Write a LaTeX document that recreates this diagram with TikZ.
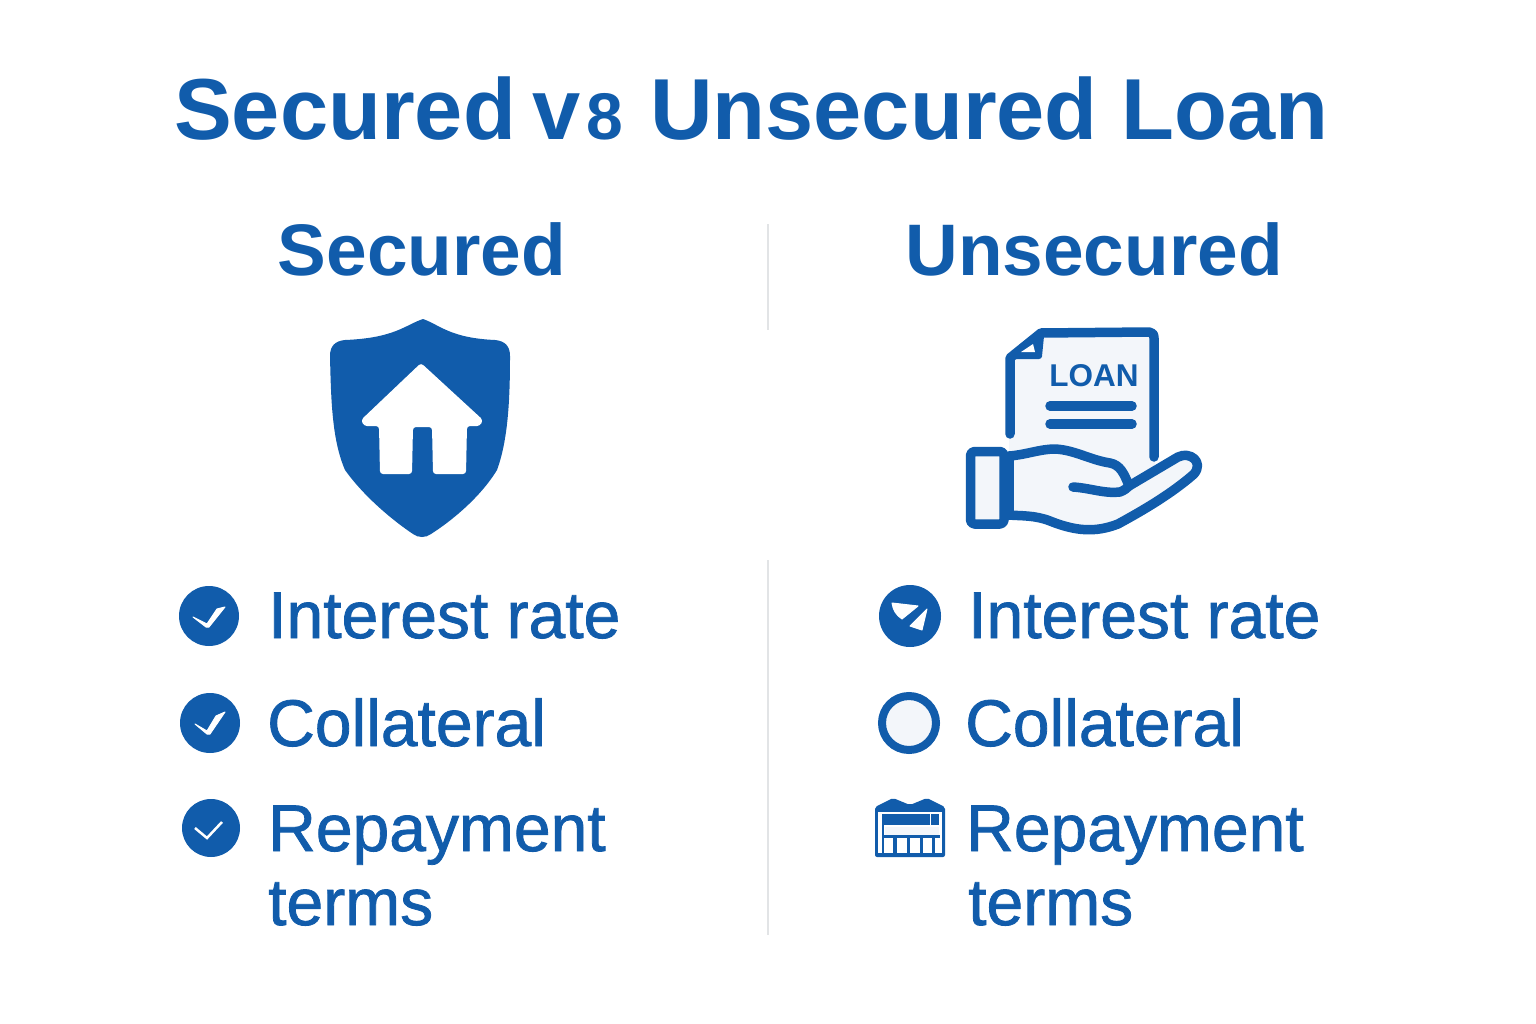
\documentclass[tikz,border=0pt]{standalone}
\usepackage{fontspec}
\setmainfont{Liberation Sans}
\newfontfamily\itemfont[FakeBold=1.2]{Liberation Sans}
\definecolor{loanblue}{HTML}{115CAB}
\definecolor{paleblue}{HTML}{F3F6FA}
\definecolor{rulegray}{HTML}{E2E4E6}
\tikzset{
  titletext/.style={anchor=base west, inner sep=0pt, text=loanblue, font=\bfseries\fontsize{86.6}{86.6}\selectfont},
  headtext/.style={anchor=base, inner sep=0pt, text=loanblue, font=\bfseries\fontsize{73}{73}\selectfont},
  itemtext/.style={anchor=base west, inner sep=0pt, text=loanblue, font=\itemfont\fontsize{66}{66}\selectfont},
  bluedisc/.style={circle, fill=loanblue, inner sep=0pt},
  iconline/.style={draw=loanblue, line width=9.5pt, line join=round, line cap=round},
  whitemark/.style={fill=white, draw=white, line width=1pt, line join=round}
}
\begin{document}
\begin{tikzpicture}[x=1pt,y=-1pt]
\useasboundingbox (0,0) rectangle (1536,1024);
% title
\node[titletext] (title1) at (174,140) {Secured};
\node[titletext] (title2) at (532,140) {v\kern6pt{\fontsize{66}{66}\selectfont 8}};
\node[titletext] (title3) at (650,140) {Unsecured Loan};
\node[headtext] (headL) at (422,276) {Secured};
\node[headtext] (headR) at (1094,276) {Unsecured};
% divider
\draw[rulegray, line width=1.2pt] (768,224) -- (768,330);
\draw[rulegray, line width=1.2pt] (768,560) -- (768,935);
% shield
\fill[loanblue] (423,319) .. controls (405,325) and (395,338) .. (345,340)
  .. controls (335,341) and (330,346) .. (330,356)
  .. controls (331,400) and (332,440) .. (345,470)
  .. controls (365,498) and (395,522) .. (413,534)
  .. controls (418,538) and (426,538) .. (431,534)
  .. controls (450,522) and (480,498) .. (497,470)
  .. controls (508,440) and (510,400) .. (510,356)
  .. controls (510,346) and (505,341) .. (495,340)
  .. controls (450,338) and (440,325) .. (423,319) -- cycle;
\fill[white, rounded corners=3pt] (421,363) -- (483,420) -- (480,426) -- (467,426) -- (466,474) -- (433,474)
  -- (432,427) -- (413,427) -- (412,474) -- (380,474) -- (379,426) -- (364,426) -- (361,420) -- cycle;
% loan document
\fill[paleblue] (1009,358) -- (1040,333) -- (1155,333) -- (1155,480) -- (1009,480) -- cycle;
\draw[iconline] (1010,434) -- (1010,358) -- (1041,333) -- (1149,332)
  .. controls (1152,332) and (1154,334) .. (1154,338) -- (1154,457);
\draw[iconline, line width=6pt, fill=loanblue] (1011,356) -- (1039,356) -- (1041,336) -- cycle;
\fill[white] (1021,352) -- (1033,344) -- (1035,352) -- cycle;
\node[inner sep=0pt, text=loanblue, font=\bfseries\fontsize{31.5}{31.5}\selectfont] (loantext) at (1094,376) {LOAN};
\draw[iconline] (1050,406) -- (1132,406);
\draw[iconline] (1050,424) -- (1132,424);
% hand
\draw[iconline, fill=paleblue] (1009,456) .. controls (1025,455) and (1040,449) .. (1055,449)
  .. controls (1075,450) and (1090,460) .. (1110,463)
  .. controls (1120,465) and (1124,473) .. (1129,486)
  -- (1178,457) .. controls (1190,451) and (1204,462) .. (1194,474)
  .. controls (1170,495) and (1140,512) .. (1118,524)
  .. controls (1095,533) and (1075,531) .. (1050,521)
  .. controls (1035,515) and (1020,516) .. (1009,515) -- cycle;
\draw[iconline] (1073,487) .. controls (1090,488) and (1105,494) .. (1120,492)
  .. controls (1125,490) and (1127,488) .. (1129,486);
\draw[iconline, fill=paleblue, rounded corners=4pt] (970.5,451.5) rectangle (1004,524);
% secured list
\node[bluedisc, minimum size=60pt] (dotL1) at (209,616) {};
\node[bluedisc, minimum size=60pt] (dotL2) at (210,723) {};
\node[bluedisc, minimum size=58pt] (dotL3) at (211,828) {};
\fill[whitemark] (193,617) -- (207,624) -- (217,609) -- (225,607) -- (209,627) -- (206,627) -- cycle;
\fill[whitemark] (195,724) -- (207,731) -- (216,716) -- (225,712) -- (210,734) -- (207,734) -- cycle;
\draw[white, line width=2.5pt] (195,828) -- (207,838) -- (222,822);
\node[itemtext] (itemL1) at (268,638) {Interest rate};
\node[itemtext] (itemL2) at (267,746) {Collateral};
\node[itemtext] (itemL3) at (268,851) {Repayment};
\node[itemtext] (itemL4) at (268,925) {terms};
% unsecured list
\node[bluedisc, minimum size=62pt] (dotR1) at (910,616) {};
\fill[whitemark] (892,603) -- (918,606) -- (902,619) .. controls (896,615) and (893,610) .. (892,603) -- cycle;
\fill[whitemark] (927,609) -- (910,626) -- (922,630) -- cycle;
\node[circle, draw=loanblue, line width=8pt, fill=paleblue, minimum size=54pt, inner sep=0pt] (dotR2) at (909,723) {};
% repayment calendar
\fill[loanblue, rounded corners=2pt] (875,807) -- (893,798) -- (910,805) -- (927,798) -- (945,807)
  -- (945,857) -- (875,857) -- cycle;
\fill[white] (878,811.5) rectangle (942,853);
\fill[loanblue] (882,813.5) rectangle (939,825);
\fill[white] (929.5,813.5) rectangle (930.5,825);
\fill[loanblue] (882,825) rectangle (884,853);
\fill[paleblue] (885,827) rectangle (939,835);
\fill[loanblue] (884,835) rectangle (940,838);
\foreach \xa/\xb in {893/897,907/910,920/923,932/935}
  \fill[loanblue] (\xa,838) rectangle (\xb,853);
\node[itemtext] (itemR1) at (968,638) {Interest rate};
\node[itemtext] (itemR2) at (965,746) {Collateral};
\node[itemtext] (itemR3) at (966,851) {Repayment};
\node[itemtext] (itemR4) at (968,925) {terms};
\end{tikzpicture}
\end{document}
